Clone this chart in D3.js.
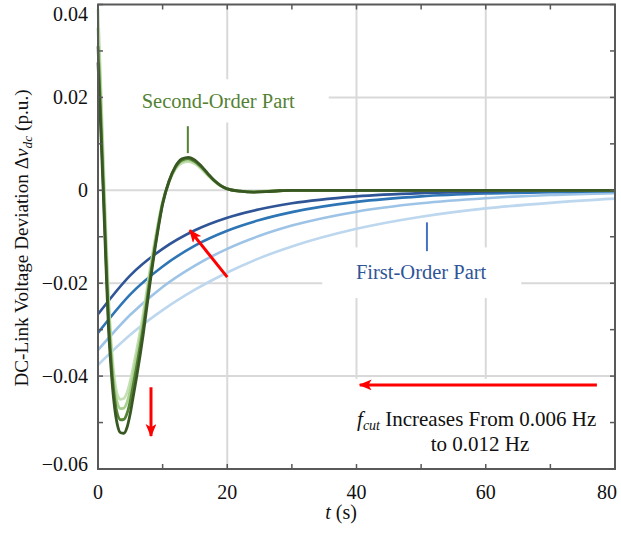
<!DOCTYPE html>
<html>
<head>
<meta charset="utf-8">
<script src="https://cdn.jsdelivr.net/npm/d3@7"></script>
<style>
  body { margin: 0; background: #fff; }
  svg text { font-family: "Liberation Serif", "Times New Roman", serif; }
</style>
</head>
<body>
<script>
// time samples, second-order part (dense around the dip)
const tGreen = [0, 0.4, 0.8, 1.2, 1.6, 2, 2.5, 3, 3.5, 4, 4.5, 5, 5.5, 6, 7, 8, 9, 10, 11, 12, 13, 14, 15, 16, 17, 18, 19, 20, 22, 24, 26, 28, 30, 40, 80]
const green006 = [0.039, 0.024, 0.008, -0.008, -0.022, -0.032, -0.040, -0.0440, -0.0450, -0.0448, -0.0435, -0.0410, -0.0377, -0.0342, -0.0265, -0.0175, -0.0093, -0.0024, 0.0018, 0.0046, 0.0059, 0.0062, 0.0057, 0.0046, 0.0032, 0.0019, 0.0009, 0.0003, -0.0002, -0.0003, -0.0002, -0.0001, 0, 0, 0]
const green008 = [0.035, 0.020, 0.004, -0.011, -0.024, -0.034, -0.042, -0.0458, -0.0470, -0.0469, -0.0456, -0.0430, -0.0395, -0.0358, -0.0280, -0.0185, -0.0099, -0.0026, 0.0019, 0.0048, 0.0062, 0.0065, 0.0060, 0.0048, 0.0034, 0.0020, 0.0009, 0.0003, -0.0002, -0.0003, -0.0002, -0.0001, 0, 0, 0]
const green010 = [0.031, 0.017, 0.002, -0.013, -0.027, -0.036, -0.044, -0.0482, -0.0494, -0.0493, -0.0480, -0.0453, -0.0416, -0.0378, -0.0295, -0.0195, -0.0105, -0.0028, 0.0020, 0.0050, 0.0065, 0.0068, 0.0062, 0.0050, 0.0035, 0.0021, 0.0010, 0.0003, -0.0002, -0.0004, -0.0003, -0.0001, 0, 0, 0]
const green012 = [0.0275, 0.014, 0.000, -0.015, -0.029, -0.038, -0.046, -0.0505, -0.0522, -0.0523, -0.0510, -0.0480, -0.0440, -0.0400, -0.0310, -0.0205, -0.0110, -0.0030, 0.0020, 0.0052, 0.0068, 0.0071, 0.0065, 0.0052, 0.0036, 0.0021, 0.0010, 0.0003, -0.0002, -0.0004, -0.0003, -0.0001, 0, 0, 0]

// time samples, first-order part
const tBlue = [0, 5, 10, 15, 20, 25, 30, 40, 50, 60, 70, 80]
const blue006 = [-0.0376, -0.0311, -0.0258, -0.0214, -0.0177, -0.0146, -0.0121, -0.0083, -0.0057, -0.0039, -0.0027, -0.0018]
const blue008 = [-0.0344, -0.0268, -0.0208, -0.0162, -0.0126, -0.0098, -0.0076, -0.0046, -0.0028, -0.0017, -0.0010, -0.0006]
const blue010 = [-0.0307, -0.0224, -0.0164, -0.0119, -0.0087, -0.0064, -0.0047, -0.0025, -0.0013, -0.0007, -0.0004, -0.0002]
const blue012 = [-0.0267, -0.0183, -0.0126, -0.0086, -0.0059, -0.0041, -0.0028, -0.0013, -0.0006, -0.0003, -0.0001, -0.0001]

const xTicks = [0, 20, 40, 60, 80]
const yTicks = [-0.06, -0.04, -0.02, 0, 0.02, 0.04]
const xMinor = [0, 10, 20, 30, 40, 50, 60, 70, 80]
const yMinor = [-0.06, -0.05, -0.04, -0.03, -0.02, -0.01, 0, 0.01, 0.02, 0.03, 0.04]

const width = 621
const height = 534
const mLeft = 98, mRight = 615, mTop = 4.5, mBottom = 469

let svg = d3.select("body").append("svg")
    .attr("width", width)
    .attr("height", height)

let x = d3.scaleLinear().domain([0, 80]).range([mLeft, mRight])
let y = d3.scaleLinear().domain([-0.06, 0.04]).range([mBottom, mTop])

//grid
svg.append("g").selectAll("line")
    .data(xTicks.slice(1, -1))
    .enter().append("line")
    .attr("x1", d => x(d)).attr("x2", d => x(d))
    .attr("y1", mTop).attr("y2", mBottom)
    .attr("stroke", "#d9d9d9").attr("stroke-width", 2)
svg.append("g").selectAll("line")
    .data(yTicks.slice(1, -1))
    .enter().append("line")
    .attr("x1", mLeft).attr("x2", mRight)
    .attr("y1", d => y(d)).attr("y2", d => y(d))
    .attr("stroke", "#d9d9d9").attr("stroke-width", 2)

//white boxes behind the annotations hide the grid
let boxes = [
    [0.3, 35.7, 0.0239, 0.0146],
    [34.7, 65.5, -0.0123, -0.0232],
    [37, 79.8, -0.0406, -0.0599]
]
svg.append("g").selectAll("rect")
    .data(boxes)
    .enter().append("rect")
    .attr("x", d => x(d[0]))
    .attr("y", d => y(d[2]))
    .attr("width", d => x(d[1]) - x(d[0]))
    .attr("height", d => y(d[3]) - y(d[2]))
    .attr("fill", "#fff")

//curves
let line = d3.line().curve(d3.curveMonotoneX)
let blues = [
    [blue006, "#bdd7ee"],
    [blue008, "#9dc3e6"],
    [blue010, "#2e75b6"],
    [blue012, "#2f5597"]
]
let greens = [
    [green006, "#c5e0b4"],
    [green008, "#a9d18e"],
    [green010, "#548235"],
    [green012, "#385723"]
]
blues.forEach(b => {
    svg.append("path")
        .attr("d", line(tBlue.map((t, i) => [x(t), y(b[0][i])])))
        .attr("fill", "none")
        .attr("stroke", b[1])
        .attr("stroke-width", 2.6)
})
greens.forEach(g => {
    svg.append("path")
        .attr("d", line(tGreen.map((t, i) => [x(t), y(g[0][i])])))
        .attr("fill", "none")
        .attr("stroke", g[1])
        .attr("stroke-width", 2.8)
})

//frame and ticks
let axisColor = "#595959"
svg.append("rect")
    .attr("x", mLeft).attr("y", mTop)
    .attr("width", mRight - mLeft).attr("height", mBottom - mTop)
    .attr("fill", "none").attr("stroke", axisColor).attr("stroke-width", 2)
let tl = 5
xMinor.forEach(d => {
    svg.append("line").attr("x1", x(d)).attr("x2", x(d)).attr("y1", mBottom).attr("y2", mBottom - tl)
        .attr("stroke", axisColor).attr("stroke-width", 1.5)
    svg.append("line").attr("x1", x(d)).attr("x2", x(d)).attr("y1", mTop).attr("y2", mTop + tl)
        .attr("stroke", axisColor).attr("stroke-width", 1.5)
})
yMinor.forEach(d => {
    svg.append("line").attr("x1", mLeft).attr("x2", mLeft + tl).attr("y1", y(d)).attr("y2", y(d))
        .attr("stroke", axisColor).attr("stroke-width", 1.5)
    svg.append("line").attr("x1", mRight).attr("x2", mRight - tl).attr("y1", y(d)).attr("y2", y(d))
        .attr("stroke", axisColor).attr("stroke-width", 1.5)
})

//tick labels (kept inside the window at the ends)
svg.append("g").selectAll("text")
    .data(xTicks)
    .enter().append("text")
    .attr("x", d => Math.min(x(d), 607))
    .attr("y", 499)
    .attr("text-anchor", "middle")
    .attr("font-size", 20)
    .attr("fill", "#111")
    .text(d => d)
svg.append("g").selectAll("text")
    .data(yTicks)
    .enter().append("text")
    .attr("x", 88)
    .attr("y", d => Math.min(Math.max(y(d), 14), 464))
    .attr("dy", "0.34em")
    .attr("text-anchor", "end")
    .attr("font-size", 20)
    .attr("fill", "#111")
    .text(d => d === 0 ? "0" : d3.format(".2f")(d))

//axis titles
let xt = svg.append("text")
    .attr("x", 341).attr("y", 519)
    .attr("text-anchor", "middle")
    .attr("font-size", 20)
    .attr("fill", "#111")
xt.append("tspan").attr("font-style", "italic").text("t")
xt.append("tspan").text(" (s)")

let yt = svg.append("text")
    .attr("transform", "translate(28,238) rotate(-90)")
    .attr("text-anchor", "middle")
    .attr("font-size", 19.2)
    .attr("fill", "#111")
yt.append("tspan").text("DC-Link Voltage Deviation \u0394")
yt.append("tspan").attr("font-style", "italic").text("v")
yt.append("tspan").attr("font-style", "italic").attr("font-size", 13.5).attr("dy", 4).text("dc")
yt.append("tspan").attr("dy", -4).text(" (p.u.)")

//annotations
svg.append("text")
    .attr("x", x(18.6)).attr("y", y(0.0178))
    .attr("text-anchor", "middle")
    .attr("font-size", 20.5)
    .attr("fill", "#548235")
    .text("Second-Order Part")
svg.append("line")
    .attr("x1", x(13.9)).attr("x2", x(13.9))
    .attr("y1", y(0.0138)).attr("y2", y(0.008))
    .attr("stroke", "#548235").attr("stroke-width", 2)

svg.append("text")
    .attr("x", x(50)).attr("y", y(-0.0191))
    .attr("text-anchor", "middle")
    .attr("font-size", 20.5)
    .attr("fill", "#2f5597")
    .text("First-Order Part")
svg.append("line")
    .attr("x1", x(50.9)).attr("x2", x(50.9))
    .attr("y1", y(-0.0069)).attr("y2", y(-0.0131))
    .attr("stroke", "#4472c4").attr("stroke-width", 2)

let ft = svg.append("text")
    .attr("x", x(58.6)).attr("y", y(-0.0507))
    .attr("text-anchor", "middle")
    .attr("font-size", 21)
    .attr("fill", "#111")
ft.append("tspan").attr("font-style", "italic").text("f")
ft.append("tspan").attr("font-style", "italic").attr("font-size", 14).attr("dy", 4).text("cut")
ft.append("tspan").attr("dy", -4).text(" Increases From 0.006 Hz")
svg.append("text")
    .attr("x", x(59.1)).attr("y", y(-0.0561))
    .attr("text-anchor", "middle")
    .attr("font-size", 21)
    .attr("fill", "#111")
    .text("to 0.012 Hz")

//red arrows
svg.append("defs").append("marker")
    .attr("id", "head")
    .attr("markerUnits", "userSpaceOnUse")
    .attr("viewBox", "0 0 12 10")
    .attr("refX", 11).attr("refY", 5)
    .attr("markerWidth", 13).attr("markerHeight", 11)
    .attr("orient", "auto")
    .append("path")
    .attr("d", "M0,0 L12,5 L0,10 L3,5 Z")
    .attr("fill", "#ff0000")
let arrows = [
    [77.2, -0.0419, 40.5, -0.0419],
    [20.0, -0.0187, 14.2, -0.0086],
    [8.2, -0.0424, 8.2, -0.0529]
]
svg.append("g").selectAll("line")
    .data(arrows)
    .enter().append("line")
    .attr("x1", d => x(d[0])).attr("y1", d => y(d[1]))
    .attr("x2", d => x(d[2])).attr("y2", d => y(d[3]))
    .attr("stroke", "#ff0000")
    .attr("stroke-width", 3)
    .attr("marker-end", "url(#head)")
</script>
</body>
</html>
